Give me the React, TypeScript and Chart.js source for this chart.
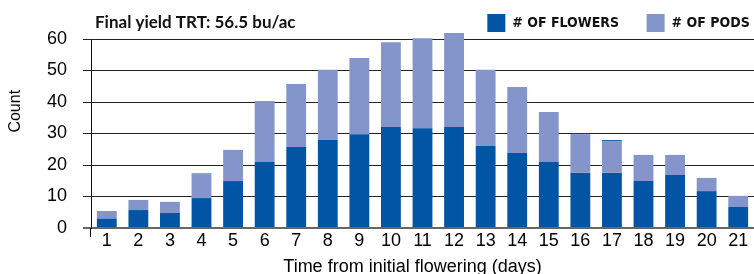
import React, { useEffect, useRef } from "react";
import { Chart, registerables } from "chart.js";

Chart.register(...registerables);

const days = ["1", "2", "3", "4", "5", "6", "7", "8", "9", "10", "11", "12", "13", "14", "15", "16", "17", "18", "19", "20", "21"];
const flowers = [3, 5.7, 4.8, 9.5, 14.9, 21, 25.7, 27.9, 29.8, 32.1, 31.7, 32.1, 26, 23.8, 21, 17.5, 17.5, 14.9, 16.8, 11.7, 6.7];
const pods = [2.4, 3.2, 3.5, 7.5, 9.9, 19.3, 20.0, 22.3, 24.2, 26.9, 28.5, 29.8, 24.2, 21.0, 15.8, 12.3, 10.1, 8.3, 6.4, 4.2, 3.5];
const extra = [0, 0, 0, 0.3, 0, 0, 0, 0, 0, 0, 0, 0, 0, 0, 0, 0.2, 0.3, 0, 0, 0, 0];
const yTicks = [0, 10, 20, 30, 40, 50, 60];
const chartTitle = "Final yield TRT: 56.5 bu/ac";

const DARK = "#0254A5";
const LIGHT = "#8395CA";

const legendHeightPlugin = {
  id: "legendHeight",
  beforeLayout(chart: any) {
    const legend = chart.legend;
    if (legend && !legend._patched) {
      const fit = legend.fit;
      legend.fit = function () {
        fit.call(this);
        this.height = 35;
      };
      legend._patched = true;
    }
  },
};

const titlePlugin = {
  id: "leftTitle",
  afterDraw(chart: any) {
    const ctx = chart.ctx;
    const area = chart.chartArea;
    const boxes = chart.legend && chart.legend.legendHitBoxes;
    const y = boxes && boxes.length ? boxes[0].top + boxes[0].height / 2 : 23;
    ctx.save();
    ctx.font = "bold 17px Lato";
    ctx.fillStyle = "#111";
    ctx.textBaseline = "middle";
    ctx.textAlign = "left";
    ctx.fillText(chartTitle, area.left + 4, y);
    // axis line extension below the baseline
    ctx.strokeStyle = "#111";
    ctx.lineWidth = 1;
    ctx.beginPath();
    ctx.moveTo(area.left - 0.5, area.bottom);
    ctx.lineTo(area.left - 0.5, area.bottom + 9);
    ctx.stroke();
    ctx.restore();
  },
};

export default function App() {
  const ref = useRef<HTMLCanvasElement | null>(null);
  useEffect(() => {
    if (!ref.current) return;
    const common = { categoryPercentage: 1, barPercentage: 0.628, clip: false as any };
    const chart = new Chart(ref.current, {
      type: "bar",
      data: {
        labels: days,
        datasets: [
          { label: "# OF FLOWERS    ", data: flowers, backgroundColor: DARK, ...common },
          { label: "# OF PODS", data: pods, backgroundColor: LIGHT, ...common },
          { label: "extra", data: extra, backgroundColor: DARK, ...common },
        ],
      },
      options: {
        animation: false,
        responsive: true,
        maintainAspectRatio: false,
        layout: { padding: { top: 4, right: -5.7, left: 0, bottom: 0 } },
        plugins: {
          tooltip: { enabled: false },
          legend: {
            position: "top",
            align: "end",
            labels: {
              boxWidth: 18,
              boxHeight: 18,
              padding: 10,
              color: "#111",
              font: { family: "'DejaVu Sans Condensed', 'DejaVu Sans', sans-serif", size: 14, weight: "bold" },
              filter: (item: any) => item.text !== "extra",
            },
          },
        },
        scales: {
          x: {
            stacked: true,
            grid: { display: false, drawTicks: false },
            border: { display: false },
            afterFit: (s: any) => { s.height = 52; },
            ticks: {
              autoSkip: false,
              maxRotation: 0,
              padding: 2,
              color: "#000",
              font: { family: "'Liberation Sans', Arial, sans-serif", size: 18 },
            },
            title: {
              display: true,
              text: "Time from initial flowering (days)    ",
              color: "#000",
              padding: { top: 0, bottom: 2 },
              font: { family: "'Liberation Sans', Arial, sans-serif", size: 18 },
            },
          },
          y: {
            min: 0,
            max: 60,
            stacked: true,
            afterFit: (s: any) => { s.width = 91; },
            afterBuildTicks: (s: any) => { s.ticks = yTicks.map((v) => ({ value: v })); },
            grid: {
              color: (c: any) => (c.tick && c.tick.value === 0 ? "#666" : "#222"),
              lineWidth: (c: any) => (c.tick && c.tick.value === 0 ? 2 : 1),
              tickLength: 8,
            },
            border: { display: true, color: "#111", width: 1 },
            ticks: {
              padding: 16,
              color: "#000",
              font: { family: "'Liberation Sans', Arial, sans-serif", size: 18 },
            },
            title: {
              display: true,
              text: "          Count",
              color: "#000",
              padding: { top: 6, bottom: 0 },
              font: { family: "'Liberation Sans', Arial, sans-serif", size: 16 },
            },
          },
        },
      },
      plugins: [legendHeightPlugin, titlePlugin],
    });
    return () => chart.destroy();
  }, []);
  return (
    <div style={{ position: "fixed", left: 0, top: 0, width: 754, height: 274, overflow: "hidden", background: "#fff" }}>
      <div style={{ position: "relative", width: 754, height: 280 }}>
        <canvas ref={ref} />
      </div>
    </div>
  );
}
